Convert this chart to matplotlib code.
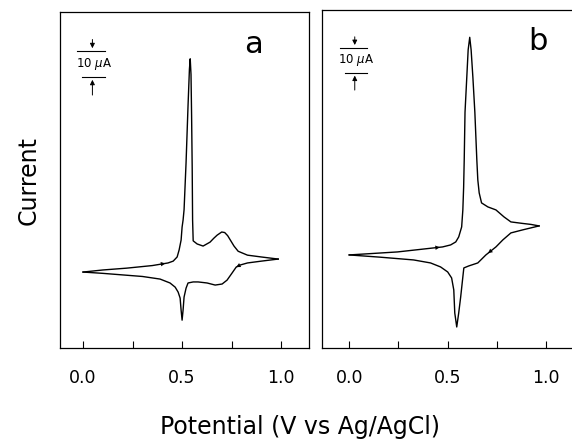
import numpy as np
import matplotlib
matplotlib.use("Agg")
import matplotlib.pyplot as plt

# panel a: forward (anodic) and reverse scans, E in V, I in uA
a_fwd_E = [0.0, 0.10, 0.22, 0.35, 0.429, 0.455, 0.475, 0.485, 0.495, 0.50, 0.505, 0.51,
           0.52, 0.53, 0.537, 0.541, 0.545, 0.548, 0.551, 0.553, 0.556, 0.576, 0.606,
           0.641, 0.66, 0.677, 0.70, 0.715, 0.73, 0.742, 0.762, 0.783, 0.83, 0.90, 0.985]
a_fwd_I = [0.0, 0.8, 1.5, 2.5, 3.5, 4.2, 5.8, 8.5, 12.3, 17.3, 20.0, 24.0,
           42.0, 64.0, 78.0, 82.0, 76.0, 60.0, 40.0, 20.0, 12.0, 10.8, 10.0,
           11.5, 13.0, 14.2, 15.4, 15.2, 14.0, 12.5, 10.0, 8.0, 6.5, 5.8, 5.0]
a_rev_E = [0.985, 0.90, 0.83, 0.793, 0.773, 0.752, 0.727, 0.702, 0.667, 0.626, 0.581,
           0.556, 0.530, 0.520, 0.510, 0.505, 0.50, 0.495, 0.490, 0.480, 0.465, 0.439,
           0.389, 0.30, 0.20, 0.10, 0.0]
a_rev_I = [5.0, 4.2, 3.5, 2.7, 1.9, -0.4, -3.1, -4.6, -5.0, -4.2, -3.8,
           -3.8, -4.2, -6.2, -9.6, -14.6, -18.5, -14.6, -10.0, -7.7, -5.8, -4.2,
           -2.7, -1.7, -1.1, -0.5, 0.0]

# panel b
b_fwd_E = [0.0, 0.245, 0.474, 0.515, 0.541, 0.556, 0.571, 0.577, 0.581, 0.584, 0.588,
           0.597, 0.604, 0.612, 0.619, 0.628, 0.638, 0.648, 0.653, 0.66, 0.672, 0.704,
           0.745, 0.786, 0.821, 0.88, 0.923, 0.964]
b_fwd_I = [0.0, 1.2, 3.2, 4.0, 5.2, 7.2, 11.2, 18.0, 27.0, 38.0, 57.0,
           71.0, 82.0, 87.0, 82.0, 71.0, 57.0, 38.0, 30.0, 24.8, 20.8, 19.2,
           18.0, 15.2, 13.2, 12.6, 12.2, 11.6]
b_rev_E = [0.964, 0.88, 0.821, 0.78, 0.745, 0.694, 0.653, 0.607, 0.582, 0.577, 0.566,
           0.556, 0.546, 0.536, 0.531, 0.52, 0.50, 0.464, 0.413, 0.327, 0.158, 0.0]
b_rev_I = [11.6, 10.0, 8.8, 6.0, 3.2, 0.0, -3.2, -4.4, -5.2, -8.8, -16.8,
           -23.2, -28.8, -23.2, -14.0, -9.2, -6.8, -4.8, -3.2, -2.0, -0.9, 0.0]

ticks = [0.0, 0.25, 0.5, 0.75, 1.0]
tick_labels = ["0.0", "", "0.5", "", "1.0"]

panels = [
    dict(pos=[0.105, 0.218, 0.435, 0.755], xlim=(-0.116, 1.14), ylim=(-29.2, 100),
         fwd=(a_fwd_E, a_fwd_I), rev=(a_rev_E, a_rev_I), label="a", lab_xy=(0.74, 0.878),
         bar=(75, 85), arrows=(4, 4), right=True),
    dict(pos=[0.563, 0.218, 0.44, 0.76], xlim=(-0.138, 1.14), ylim=(-37.2, 98),
         fwd=(b_fwd_E, b_fwd_I), rev=(b_rev_E, b_rev_I), label="b", lab_xy=(0.82, 0.88),
         bar=(72.8, 82.8), arrows=(2, 5), right=False),
]

fig = plt.figure(figsize=(5.72, 4.45), dpi=100)

for p in panels:
    ax = fig.add_axes(p["pos"])
    fE, fI = p["fwd"]
    rE, rI = p["rev"]
    ax.plot(fE, fI, color="black", lw=1.0)
    ax.plot(rE, rI, color="black", lw=1.0)

    # direction arrows on the scans
    i = p["arrows"][0]
    ax.annotate("", xy=(fE[i], fI[i]), xytext=(fE[i - 1], fI[i - 1]),
                arrowprops=dict(arrowstyle="-|>", color="black", lw=0, mutation_scale=8))
    j = p["arrows"][1]
    ax.annotate("", xy=(rE[j], rI[j]), xytext=(rE[j - 1], rI[j - 1]),
                arrowprops=dict(arrowstyle="-|>", color="black", lw=0, mutation_scale=8))

    ax.set_xlim(*p["xlim"])
    ax.set_ylim(*p["ylim"])
    ax.set_xticks(ticks)
    ax.set_xticklabels(tick_labels, fontsize=12.5)
    ax.tick_params(axis="x", direction="in", length=5, pad=15, width=0.8)
    ax.set_yticks([])
    ax.spines["right"].set_visible(p["right"])
    for s in ax.spines.values():
        s.set_linewidth(0.9)

    ax.text(p["lab_xy"][0], p["lab_xy"][1], p["label"], transform=ax.transAxes,
            fontsize=22, ha="left", va="baseline")

    # 10 uA scale bar
    lo, hi = p["bar"]
    tr = ax.get_yaxis_transform()
    ax.plot([0.07, 0.18], [hi, hi], color="black", lw=0.8, transform=tr)
    ax.plot([0.09, 0.18], [lo, lo], color="black", lw=0.8, transform=tr)
    ax.annotate("", xy=(0.13, hi), xytext=(0.13, hi + 5.5), xycoords=tr, textcoords=tr,
                arrowprops=dict(arrowstyle="-|>", color="black", lw=0.7, mutation_scale=7))
    ax.annotate("", xy=(0.13, lo), xytext=(0.13, lo - 8), xycoords=tr, textcoords=tr,
                arrowprops=dict(arrowstyle="-|>", color="black", lw=0.7, mutation_scale=7))
    ax.text(0.065, (lo + hi) / 2, "10 $\\mu$A", transform=tr, fontsize=8.5,
            ha="left", va="center")

fig.text(0.05, 0.595, "Current", rotation=90, fontsize=17, ha="center", va="center")
fig.text(0.525, 0.04, "Potential (V vs Ag/AgCl)", fontsize=17, ha="center", va="center")

fig.savefig("out.png", dpi=100)
